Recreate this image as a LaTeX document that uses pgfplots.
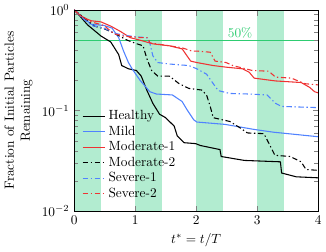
\documentclass[border=0pt]{standalone}
\usepackage{pgfplots}
\pgfplotsset{compat=1.18}
\definecolor{bandgreen}{RGB}{178,236,208}
\definecolor{linegreen}{RGB}{46,204,113}
\definecolor{myred}{RGB}{238,51,51}
\definecolor{myblue}{RGB}{80,130,255}
\begin{document}
\begin{tikzpicture}
\begin{axis}[
  scale only axis,
  width=183pt, height=151pt,
  xmin=0, xmax=4, ymin=0.01, ymax=1,
  ymode=log,
  xtick={0,1,2,3,4},
  xlabel={$t^* = t/T$},
  ylabel={Fraction of Initial Particles\\Remaining},
  ylabel style={align=center},
  axis on top,
  legend style={draw=none, fill=none, at={(0.015,0.03)}, anchor=south west, row sep=-0.8pt},
  legend cell align=left,
  dd/.style={dash pattern=on 4pt off 2pt on 1pt off 2pt},
]
\addplot[fill=bandgreen, draw=none, forget plot] coordinates {(0,0.01)(0,1)(0.44,1)(0.44,0.01)} -- cycle;
\addplot[fill=bandgreen, draw=none, forget plot] coordinates {(1,0.01)(1,1)(1.44,1)(1.44,0.01)} -- cycle;
\addplot[fill=bandgreen, draw=none, forget plot] coordinates {(2,0.01)(2,1)(2.44,1)(2.44,0.01)} -- cycle;
\addplot[fill=bandgreen, draw=none, forget plot] coordinates {(3,0.01)(3,1)(3.44,1)(3.44,0.01)} -- cycle;
\addplot[linegreen, thick, forget plot] coordinates {(0,0.5)(4,0.5)};
\node[text=linegreen, anchor=south, inner sep=1.5pt] at (axis cs:2.72,0.5) {50\%};

\addplot[black, thick] coordinates {(0,1) (0.1,0.86) (0.22,0.71) (0.44,0.55) (0.6,0.48) (0.73,0.36) (0.78,0.28) (0.89,0.26) (1.02,0.25) (1.1,0.22) (1.19,0.16) (1.29,0.118) (1.4,0.092) (1.5,0.085) (1.64,0.070) (1.69,0.056) (1.8,0.048) (1.99,0.047) (2.07,0.045) (2.39,0.041) (2.41,0.035) (2.79,0.032) (3.38,0.031) (3.40,0.024) (3.64,0.022) (4,0.0215)};
\addlegendentry{Healthy}
\addplot[myblue, thick] coordinates {(0,1) (0.12,0.86) (0.28,0.72) (0.49,0.70) (0.62,0.66) (0.73,0.53) (0.81,0.39) (0.89,0.30) (0.95,0.26) (1.08,0.20) (1.24,0.154) (1.35,0.146) (1.61,0.143) (1.77,0.123) (1.85,0.102) (1.96,0.081) (2.01,0.077) (2.47,0.073) (2.95,0.065) (3.27,0.061) (4,0.055)};
\addlegendentry{Mild}
\addplot[myred, thick] coordinates {(0,1) (0.05,0.93) (0.17,0.83) (0.28,0.78) (0.44,0.76) (0.6,0.69) (0.76,0.61) (0.92,0.53) (1.08,0.50) (1.29,0.46) (1.56,0.44) (1.77,0.41) (1.91,0.31) (2.01,0.30) (2.28,0.28) (2.49,0.27) (2.76,0.26) (2.87,0.24) (2.95,0.21) (3.3,0.197) (3.72,0.19) (3.86,0.17) (3.94,0.154) (4,0.15)};
\addlegendentry{Moderate-1}
\addplot[black, thick, dd] coordinates {(0,1) (0.17,0.83) (0.33,0.69) (0.49,0.65) (0.65,0.59) (0.87,0.50) (1.03,0.46) (1.13,0.44) (1.19,0.33) (1.27,0.25) (1.37,0.22) (1.56,0.22) (1.72,0.185) (1.88,0.166) (2.09,0.16) (2.17,0.143) (2.23,0.11) (2.28,0.085) (2.55,0.078) (2.71,0.068) (2.84,0.06) (3.11,0.059) (3.21,0.045) (3.29,0.036) (3.54,0.035) (3.72,0.031) (3.8,0.026) (4,0.0255)};
\addlegendentry{Moderate-2}
\addplot[myblue, thick, dd] coordinates {(0,1) (0.12,0.85) (0.28,0.70) (0.49,0.66) (0.65,0.59) (0.81,0.56) (1.03,0.54) (1.19,0.53) (1.24,0.47) (1.29,0.35) (1.37,0.30) (1.56,0.29) (1.88,0.28) (2.01,0.26) (2.17,0.23) (2.28,0.185) (2.36,0.158) (2.55,0.148) (2.87,0.146) (3.16,0.143) (3.3,0.118) (3.4,0.11) (4,0.107)};
\addlegendentry{Severe-1}
\addplot[myred, thick, dd] coordinates {(0,1) (0.1,0.88) (0.28,0.76) (0.49,0.70) (0.65,0.58) (0.81,0.55) (1.08,0.53) (1.21,0.53) (1.24,0.47) (1.56,0.44) (1.77,0.42) (1.93,0.39) (2.01,0.39) (2.23,0.38) (2.31,0.31) (2.49,0.30) (2.6,0.28) (2.81,0.26) (2.92,0.25) (3.19,0.246) (3.3,0.215) (3.56,0.21) (3.78,0.185) (4,0.18)};
\addlegendentry{Severe-2}
\end{axis}
\end{tikzpicture}
\end{document}
